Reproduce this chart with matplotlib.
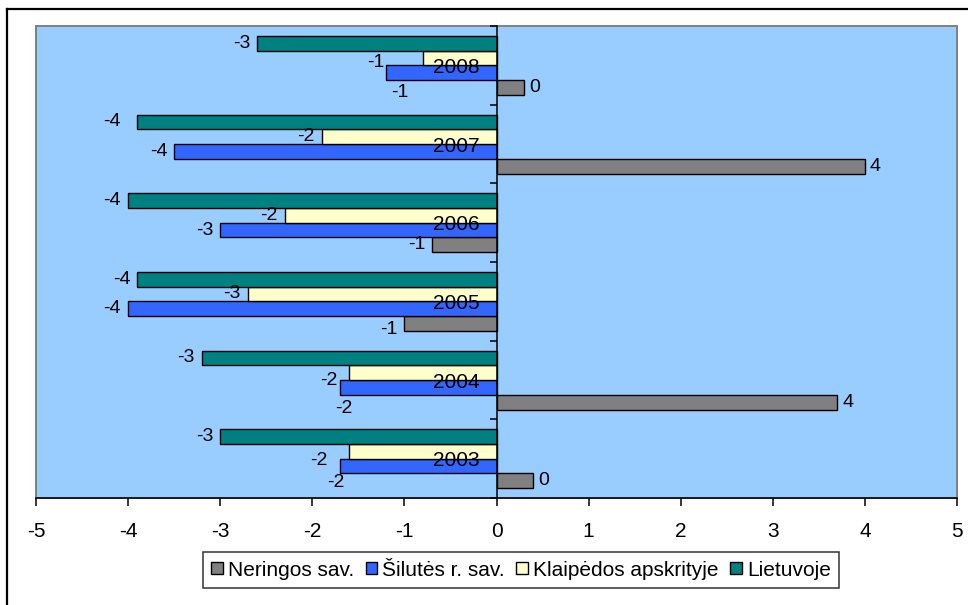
import matplotlib
matplotlib.use("Agg")
import matplotlib.pyplot as plt
from matplotlib.patches import Rectangle, Patch
from matplotlib.lines import Line2D
import numpy as np

plt.rcParams['font.family'] = ['Liberation Sans', 'DejaVu Sans']

years = ['2003', '2004', '2005', '2006', '2007', '2008']
series_names = ['Neringos sav.', 'Šilutės r. sav.', 'Klaipėdos apskrityje', 'Lietuvoje']
neringos = [0.4, 3.7, -1.0, -0.7, 4.0, 0.3]
silutes = [-1.7, -1.7, -4.0, -3.0, -3.5, -1.2]
klaipedos = [-1.6, -1.6, -2.7, -2.3, -1.9, -0.8]
lietuvoje = [-3.0, -3.2, -3.9, -4.0, -3.9, -2.6]
x_ticks = [-5, -4, -3, -2, -1, 0, 1, 2, 3, 4, 5]

series_values = [neringos, silutes, klaipedos, lietuvoje]
colors = ['#808080', '#3366FF', '#FFFFCC', '#008080']

# label nudges (pixels: dx to the right, dy downward), mimicking the original placement
nudges = {
    ('2008', 1): (6, -10), ('2008', 2): (-7, 35),
    ('2004', 1): (5, -7), ('2004', 2): (10, 36),
    ('2003', 1): (-5, -6), ('2003', 2): (2, 31),
    ('2007', 3): (-10, 0), ('2005', 0): (0, 6),
}

W, H = 968, 605
fig = plt.figure(figsize=(W / 100, H / 100), dpi=100)
fig.patch.set_facecolor('white')
L, R, T, B = 36, 957, 26, 498
ax = fig.add_axes([L / W, 1 - B / H, (R - L) / W, (B - T) / H])
ax.set_facecolor('#99CCFF')

n = len(years)
pos = np.arange(n)
bh = 0.1875
offsets = [-1.5 * bh, -0.5 * bh, 0.5 * bh, 1.5 * bh]

px = 0.72
for si, (vals, col, off) in enumerate(zip(series_values, colors, offsets)):
    ax.barh(pos + off, vals, height=bh, color=col, edgecolor='black',
            linewidth=1.0, label=series_names[si], zorder=2)
    for yi, v in enumerate(vals):
        dx, dy = nudges.get((years[yi], si), (0, 0))
        if v < 0:
            ox, ha = -7 + dx, 'right'
        else:
            ox, ha = 5 + dx, 'left'
        ax.annotate(f"{v:.0f}", xy=(v, pos[yi] + off), xytext=(ox * px, -dy * px),
                    textcoords='offset points', ha=ha, va='center',
                    fontsize=14, color='black', zorder=4)

ax.set_xlim(-5, 5)
ax.set_ylim(-0.5, n - 0.5)

for s in ['top', 'right']:
    ax.spines[s].set_visible(False)
ax.spines['left'].set_position(('data', 0))
ax.spines['left'].set_color('black')
ax.spines['left'].set_linewidth(1.1)
ax.spines['left'].set_zorder(3)
ax.spines['bottom'].set_color('black')
ax.spines['bottom'].set_linewidth(1.1)

ax.add_patch(Rectangle((0, 0), 1, 1, transform=ax.transAxes, fill=False,
                       edgecolor='#808080', linewidth=1.4, zorder=1, clip_on=False))

ax.set_xticks(x_ticks)
ax.set_xticklabels([str(t) for t in x_ticks], fontsize=15)
ax.tick_params(axis='x', direction='out', length=6, width=1.1, pad=11, colors='black')

ax.set_yticks(np.arange(-0.5, n, 1.0))
ax.set_yticklabels([])
ax.tick_params(axis='y', which='major', direction='out', length=5, width=1.1)
ax.set_yticks(pos, minor=True)
ax.set_yticklabels(years, minor=True, fontsize=15)
ax.tick_params(axis='y', which='minor', length=0, pad=12)
for lab in ax.get_yticklabels(minor=True):
    lab.set_zorder(5)
ax.yaxis.set_zorder(5)

handles = [Patch(facecolor=c, edgecolor='black', linewidth=1.0) for c in colors]
leg = fig.legend(handles, series_names, loc='center', bbox_to_anchor=(521 / W, 1 - 570 / H),
                 ncol=4, fontsize=15, frameon=True, fancybox=False, edgecolor='black',
                 handlelength=0.55, handleheight=0.55, handletextpad=0.25, columnspacing=0.55,
                 borderpad=0.4, borderaxespad=0)
leg.get_frame().set_linewidth(1.1)

fig.add_artist(Line2D([7 / W, 1], [1 - 9 / H, 1 - 9 / H], color='black', linewidth=1.6))
fig.add_artist(Line2D([7 / W, 7 / W], [0, 1 - 9 / H], color='black', linewidth=1.6))

fig.savefig('out.png', dpi=100)
